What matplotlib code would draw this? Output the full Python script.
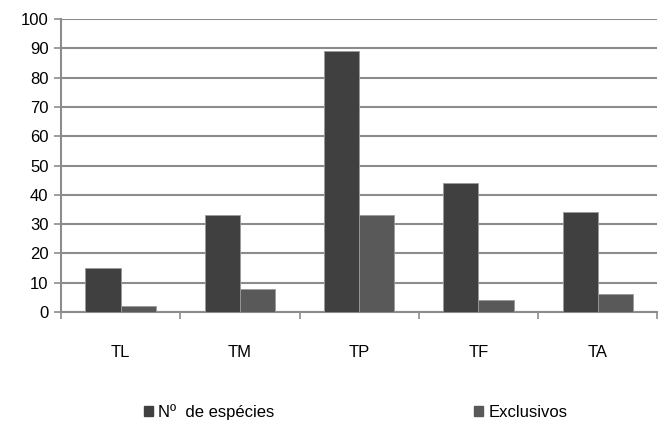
import matplotlib
matplotlib.use("Agg")
import matplotlib.pyplot as plt
import numpy as np
from matplotlib.patches import Patch

plt.rcParams['font.family'] = ['Liberation Sans Narrow', 'Liberation Sans', 'DejaVu Sans']

categories = ["TL", "TM", "TP", "TF", "TA"]
especies = [15, 33, 89, 44, 34]
exclusivos = [2, 8, 33, 4, 6]
series_names = ["Nº  de espécies", "Exclusivos"]

dark = "#404040"
light = "#595959"
grid_c = "#8c8c8c"

fig = plt.figure(figsize=(6.59, 4.25), dpi=100)
ax = fig.add_axes([0.0926, 0.266, 0.905, 0.689])

x = np.arange(len(categories))
w = 0.295
ax.bar(x - w / 2, especies, w, color=dark, edgecolor="#9a9a9a", linewidth=0.6, zorder=3)
ax.bar(x + w / 2, exclusivos, w, color=light, edgecolor="#9a9a9a", linewidth=0.6, zorder=3)

ax.set_xlim(-0.5, len(categories) - 0.5)
ax.set_ylim(0, 100)
ax.set_yticks(range(0, 101, 10))
ax.yaxis.grid(True, color=grid_c, linewidth=1.5, zorder=0)
ax.set_axisbelow(True)

# category labels centred, tick marks on the category boundaries
ax.set_xticks(x)
ax.set_xticklabels(categories, fontsize=12)
ax.tick_params(axis="x", length=0, pad=24)
ax.set_xticks(np.arange(-0.5, len(categories)), minor=True)
ax.tick_params(axis="x", which="minor", length=5, color=grid_c, width=1.2)
ax.tick_params(axis="y", length=5, color=grid_c, width=1.2, labelsize=12, pad=4)

for s in ["top", "right"]:
    ax.spines[s].set_visible(False)
ax.spines["left"].set_color(grid_c)
ax.spines["left"].set_linewidth(1.5)
ax.spines["bottom"].set_color(grid_c)
ax.spines["bottom"].set_linewidth(1.5)

handles = [Patch(color=dark), Patch(color=light)]
fig.legend(handles[:1], series_names[:1], loc="center left", bbox_to_anchor=(0.196, 0.03),
           frameon=False, fontsize=12, handlelength=0.55, handleheight=0.55, handletextpad=0.3)
fig.legend(handles[1:], series_names[1:], loc="center left", bbox_to_anchor=(0.697, 0.03),
           frameon=False, fontsize=12, handlelength=0.55, handleheight=0.55, handletextpad=0.3)

fig.savefig("out.png", dpi=100)
